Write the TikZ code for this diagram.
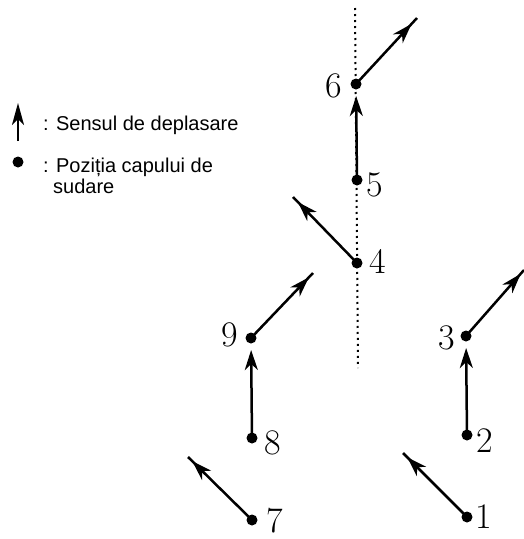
\documentclass[tikz,border=0pt]{standalone}
\usepackage{fontspec}
\usetikzlibrary{arrows.meta,decorations.markings}
\newfontfamily\legfont{Liberation Sans}
\tikzset{
  headtip/.tip={Stealth[length=20pt,width=13pt,inset=6pt]},
  headdot/.style={circle,fill=black,inner sep=0pt,minimum size=11pt,outer sep=6.5pt},
  num/.style={inner sep=0pt,font=\fontsize{36}{36}\selectfont},
  move/.style={line width=2.5pt},
  movemid/.style={line width=2.5pt,postaction={decorate},
    decoration={markings,mark=at position #1 with {\arrow{headtip}}}},
  legtext/.style={anchor=base west,inner sep=0pt,font=\legfont\fontsize{20}{20}\selectfont},
  axisline/.style={line width=2pt,dash pattern=on 2pt off 4pt},
}
\begin{document}
\begin{tikzpicture}[x=1pt,y=-1pt]
\useasboundingbox (0,0) rectangle (524,539);

% vertical reference line
\coordinate (dtop) at (355,8);
\coordinate (dbot) at (358,368);
\draw[axisline] (dtop) -- (dbot);

% welding head positions
\node[headdot] (p1) at (467,517) {};
\node[headdot] (p2) at (467,435) {};
\node[headdot] (p3) at (466,336) {};
\node[headdot] (p4) at (357,263) {};
\node[headdot] (p5) at (357,180) {};
\node[headdot] (p6) at (356,84) {};
\node[headdot] (p7) at (252,520) {};
\node[headdot] (p8) at (252,438) {};
\node[headdot] (p9) at (251,338) {};

% position numbers
\node[num] (n1) at (484,517) {1};
\node[num] (n2) at (485,441) {2};
\node[num] (n3) at (447,338) {3};
\node[num] (n4) at (378,261) {4};
\node[num] (n5) at (375,185) {5};
\node[num] (n6) at (334,86) {6};
\node[num] (n7) at (275,521) {7};
\node[num] (n8) at (273,443) {8};
\node[num] (n9) at (230,335) {9};

% free ends of the travel directions
\coordinate (e1) at (403,453);
\coordinate (e3) at (524,270);
\coordinate (e4) at (293,197);
\coordinate (e6) at (417,18);
\coordinate (e7) at (188,457);
\coordinate (e9) at (313,273);

% travel directions between positions
\draw[move,-headtip] (p5.center) -- (p6);
\draw[move,-headtip] (p8.center) -- (p9);
\draw[move,-headtip] (p2.center) -- (p3);

% travel directions leaving a position
\draw[movemid=-8pt] (p6.center) -- (e6);
\draw[movemid=-7pt] (p4.center) -- (e4);
\draw[movemid=-6pt] (p9.center) -- (e9);
\draw[movemid=-5pt] (p3.center) -- (e3);
\draw[movemid=-6pt] (p7.center) -- (e7);
\draw[movemid=-6pt] (p1.center) -- (e1);

% legend
\coordinate (la0) at (18,141);
\coordinate (la1) at (18,103);
\draw[move,-{Stealth[length=22pt,width=12pt,inset=6pt]}] (la0) -- (la1);
\node[headdot,minimum size=11pt] (ld) at (18,162) {};
\node[legtext] (l1) at (43,130) {: Sensul de deplasare};
\node[legtext] (l2) at (43,172) {: Poziția capului de};
\node[legtext] (l3) at (53,193) {sudare};
\end{tikzpicture}
\end{document}
